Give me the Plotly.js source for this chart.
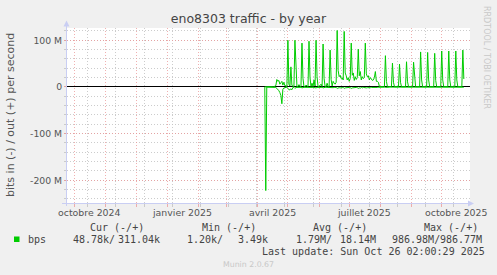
<!DOCTYPE html>
<html><head><meta charset="utf-8">
<script src="https://cdn.plot.ly/plotly-3.0.1.min.js"></script>
<style>html,body{margin:0;padding:0;background:#F0F0F0;overflow:hidden}</style>
</head><body><div id="chart" style="width:497px;height:275px"></div>
<script>
// ---- data (Mbit/s, one value per day) ----
const seriesStart = '2025-04-08';
const outMbps = [0.3,
 0.5,0.4,0.3,0.5,0.4,0.6,0.3,0.5,0.4,1.0,
 3,16,12,14,6,9,12,4,10,3,
 2,1,100,6,2,43,3,1,0.8,100,
 22,1,0.8,5,1,0.6,94,18,1,0.8,
 4,1,0.7,98,20,1,8,1,15,2,
 100,22,1,0.8,3,6,1,92,18,1,
 0.8,8,1,0.8,79,16,2,12,8,6,
 10,121,35,22,25,18,20,15,119,30,
 24,15,20,12,18,94,25,30,14,22,
 16,20,81,24,33,15,22,18,20,94,
 28,22,24,15,20,17,14,15,20,33,
 12,12,10,1,0.5,0.4,0.6,0.5,0.4,67,
 12,0.6,0.5,0.4,0.5,0.6,51,10,0.5,0.4,
 0.6,0.5,0.4,49,10,0.5,0.6,0.4,0.5,0.6,
 54,11,0.5,0.4,0.6,0.5,0.4,53,11,0.6,
 0.5,0.4,0.5,0.6,75,15,0.5,0.4,0.6,0.5,
 0.4,74,15,0.6,0.5,0.4,0.5,0.6,72,14,
 0.5,0.4,0.6,0.5,0.4,77,15,0.6,0.5,0.4,
 0.5,0.6,77,15,0.5,0.4,0.6,0.5,0.4,77,
 15,0.6,0.5,0.4,0.5,0.6,79,17];
const inMbps = [0.3,
 222,0.3,0.3,0.3,0.3,0.3,0.3,0.3,0.3,0.4,
 1,3,5,8,12,18,36,5,2,1,
 0.8,0.5,3,6,6,4,6,1,0.8,3,
 1,0.8,0.8,1,0.8,0.8,2,1,0.8,0.8,
 1,0.8,0.8,2,1,0.8,1,0.8,1.5,0.8,
 2,1,0.8,0.8,1,1,0.8,2,1,0.8,
 0.8,1,0.8,0.8,2,1,0.8,1.5,1,0.8,
 1,3,2,1.5,2,1,1.5,1,3,2,
 1.5,1,2,1,1.5,3,2,1.5,1,2,
 1,1.5,3,2,2.5,1,2,1,1.5,3,
 2,1.5,2,1,1.5,1,1,1.5,2,2.5,
 1,1,0.8,0.5,0.3,0.3,0.3,0.3,0.3,1,
 0.5,0.3,0.3,0.3,0.3,0.3,1,0.5,0.3,0.3,
 0.3,0.3,0.3,1,0.5,0.3,0.3,0.3,0.3,0.3,
 1,0.5,0.3,0.3,0.3,0.3,0.3,1,0.5,0.3,
 0.3,0.3,0.3,0.3,1,0.5,0.3,0.3,0.3,0.3,
 0.3,1,0.5,0.3,0.3,0.3,0.3,0.3,1,0.5,
 0.3,0.3,0.3,0.3,0.3,1,0.5,0.3,0.3,0.3,
 0.3,0.3,1,0.5,0.3,0.3,0.3,0.3,0.3,1,
 0.5,0.3,0.3,0.3,0.3,0.3,1,0.5];
const xRange = ['2024-09-23 07:00', '2025-10-29 03:00'];
const yRange = [-248.6e6, 126.3e6];
const yTickVals = [-200e6, -100e6, 0, 100e6];
const yTickText = ['-200 M', '-100 M', '0', '100 M'];
const xLabelDates = ['2024-10-16', '2025-01-16', '2025-04-16', '2025-07-16', '2025-10-16'];
const xLabelText = ['octobre 2024', 'janvier 2025', 'avril 2025', 'juillet 2025', 'octobre 2025'];
const legendHeaders = ['Cur (-/+)', 'Min (-/+)', 'Avg (-/+)', 'Max (-/+)'];
const legendIn = ['48.78k/', '1.20k/', '1.79M/', '986.98M/'];
const legendOut = ['311.04k', '3.49k', '18.14M', '986.77M'];
const seriesName = 'bps';
const titleText = 'eno8303 traffic - by year';
const yTitleText = 'bits in (-) / out (+) per second';
const lastUpdate = 'Last update: Sun Oct 26 02:00:29 2025';
const footer = 'Munin 2.0.67';
const sideText = 'RRDTOOL / TOBI OETIKER';

// ---- build ----
const dayMs = 86400000;
const t0 = Date.parse(seriesStart + 'T00:00:00Z');
const dates = outMbps.map((_, i) => new Date(t0 + i * dayMs).toISOString().slice(0, 10));
const outVals = outMbps.map(v => v * 1e6);
const inVals = inMbps.map(v => -v * 1e6);

const GREEN = '#00CC00';
const traces = [
  {x: dates, y: inVals, type: 'scatter', mode: 'lines', line: {color: GREEN, width: 1}, hoverinfo: 'skip', showlegend: false},
  {x: dates, y: outVals, type: 'scatter', mode: 'lines', line: {color: GREEN, width: 1}, hoverinfo: 'skip', showlegend: false}
];

const L = 67, R = 470, T = 28, B = 203, W = 497, H = 275;
const px = v => (v - L) / (R - L);
const py = v => (B - v) / (B - T);

const MGRID = 'rgba(235,150,150,0.75)';
const GRID = 'rgba(195,195,195,0.85)';
const ARROW = '#C9CEF3';
const TXT = '#444';

function ann(text, x, y, opts) {
  return Object.assign({text: text, x: px(x), y: py(y), xref: 'paper', yref: 'paper',
    showarrow: false, xanchor: 'left', yanchor: 'middle', borderpad: 0,
    font: {family: 'DejaVu Sans Mono', size: 10, color: TXT}}, opts || {});
}

const annotations = [
  ann(yTitleText, 10, 115, {textangle: -90, xanchor: 'center', font: {family: 'DejaVu Sans', size: 11, color: '#555'}}),
  ann(sideText, 487, 57, {textangle: 90, xanchor: 'center', font: {family: 'DejaVu Sans', size: 8, color: '#C8C8C8'}}),
  ann(footer, 248, 264.5, {xanchor: 'center', font: {family: 'DejaVu Sans', size: 7.8, color: '#C8C8C8'}}),
  ann(seriesName, 26.7, 239.5),
  ann(lastUpdate, 261.3, 251.7)
];
const headerX = [89.3, 201, 311.7, 422.7];
const inX = [72.3, 186, 295.3, 391];
const outX = [116.7, 237, 339.3, 439];
legendHeaders.forEach((h, i) => annotations.push(ann(h, headerX[i], 227.7)));
legendIn.forEach((h, i) => annotations.push(ann(h, inX[i], 239.5)));
legendOut.forEach((h, i) => annotations.push(ann(h, outX[i], 239.5)));
// x axis month labels, placed on the date scale
xLabelDates.forEach((d, i) => annotations.push({text: xLabelText[i], x: d, xref: 'x', y: py(212.5), yref: 'paper',
  showarrow: false, xanchor: 'center', yanchor: 'middle', borderpad: 0,
  font: {family: 'DejaVu Sans', size: 9.4, color: '#555'}}));

const shapes = [
  {type: 'line', xref: 'paper', yref: 'paper', x0: px(66.5), x1: px(66.5), y0: py(206), y1: py(25), line: {color: ARROW, width: 1}, layer: 'above'},
  {type: 'line', xref: 'paper', yref: 'paper', x0: px(62), x1: px(469), y0: py(203.5), y1: py(203.5), line: {color: ARROW, width: 1}, layer: 'above'},
  {type: 'path', xref: 'paper', yref: 'paper', path: `M ${px(63.5)} ${py(26.5)} L ${px(69.5)} ${py(26.5)} L ${px(66.5)} ${py(20.5)} Z`, fillcolor: ARROW, line: {width: 0}, layer: 'above'},
  {type: 'path', xref: 'paper', yref: 'paper', path: `M ${px(468)} ${py(200.5)} L ${px(468)} ${py(206.5)} L ${px(474)} ${py(203.5)} Z`, fillcolor: ARROW, line: {width: 0}, layer: 'above'},
  {type: 'rect', xref: 'paper', yref: 'paper', x0: px(14), x1: px(19.5), y0: py(242), y1: py(236.5), fillcolor: GREEN, line: {width: 0}}
];

const layout = {
  width: W, height: H,
  margin: {l: L, r: W - R, t: T, b: H - B, pad: 0},
  paper_bgcolor: '#F0F0F0', plot_bgcolor: '#FFFFFF',
  showlegend: false,
  title: {text: titleText, x: 0.5, xref: 'container', xanchor: 'center', y: 1 - 19 / H, yref: 'container', yanchor: 'middle',
    font: {family: 'DejaVu Sans', size: 12.5, color: TXT}},
  xaxis: {
    type: 'date', range: xRange, fixedrange: true,
    tickmode: 'linear', tick0: '2024-10-01', dtick: 'M1',
    showgrid: true, gridcolor: MGRID, gridwidth: 1, griddash: '1px,2px',
    ticks: 'outside', ticklen: 3, tickcolor: MGRID, tickwidth: 1,
    showticklabels: false, zeroline: false, showline: false,
    minor: {tick0: '2024-10-14', dtick: 28 * dayMs, showgrid: true, gridcolor: GRID, gridwidth: 1, griddash: '1px,2px',
      ticks: 'outside', ticklen: 3, tickcolor: GRID}
  },
  yaxis: {
    range: yRange, fixedrange: true,
    tickmode: 'array', tickvals: yTickVals, ticktext: yTickText,
    showgrid: true, gridcolor: MGRID, gridwidth: 1, griddash: '1px,2px',
    zeroline: true, zerolinecolor: '#000000', zerolinewidth: 1,
    ticks: 'outside', ticklen: 2, tickcolor: MGRID,
    showline: false,
    tickfont: {family: 'DejaVu Sans', size: 9.3, color: '#555'},
    minor: {tick0: 0, dtick: 20e6, showgrid: true, gridcolor: GRID, gridwidth: 1, griddash: '1px,2px', ticks: 'outside', ticklen: 2, tickcolor: GRID}
  },
  annotations: annotations,
  shapes: shapes
};

Plotly.newPlot('chart', traces, layout, {staticPlot: true, displayModeBar: false});
</script>
</body></html>
